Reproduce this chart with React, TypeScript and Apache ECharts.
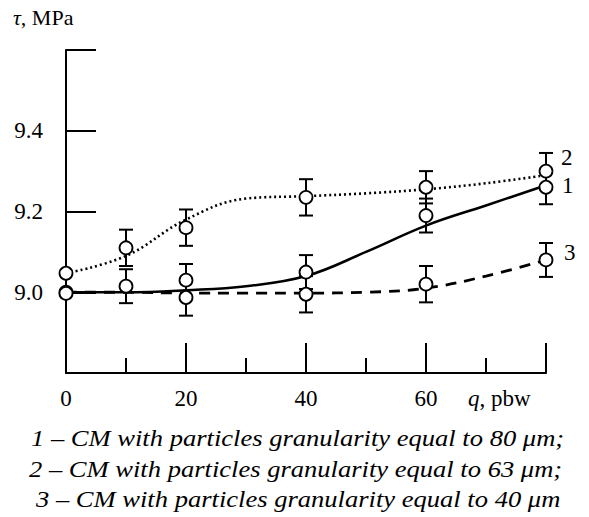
import React, { useEffect, useRef } from "react";
import * as echarts from "echarts";

// Measured points (q, pbw) and tau (MPa) with error half-widths
const q1 = [0, 10, 20, 40, 60, 80];
const tau1 = [9.0, 9.015, 9.03, 9.05, 9.19, 9.26];
const err1 = [0, 0.042, 0.04, 0.042, 0.042, 0.042];

const q2 = [0, 10, 20, 40, 60, 80];
const tau2 = [9.047, 9.11, 9.16, 9.235, 9.26, 9.3];
const err2 = [0, 0.045, 0.045, 0.045, 0.04, 0.045];

const q3 = [0, 20, 40, 60, 80];
const tau3 = [8.997, 8.987, 8.995, 9.02, 9.08];
const err3 = [0, 0.045, 0.045, 0.045, 0.042];

// Fitted curves
const qFit = [0, 10, 20, 30, 40, 50, 60, 70, 80];
const fit1 = [9.0, 9.0, 9.005, 9.015, 9.04, 9.1, 9.165, 9.215, 9.265];
const fit2 = [9.047, 9.09, 9.18, 9.232, 9.238, 9.245, 9.255, 9.27, 9.29];
const fit3 = [9.0, 9.0, 8.998, 8.998, 8.998, 9.0, 9.01, 9.04, 9.08];

const xTickLabels = [0, 20, 40, 60];
const yTickLabels = [9.0, 9.2, 9.4];

const legendLines = [
  "1 \u2013 CM with particles granularity equal to 80 \u03bcm;",
  "2 \u2013 CM with particles granularity equal to 63 \u03bcm;",
  "3 \u2013 CM with particles granularity equal to 40 \u03bcm",
];

const SERIF = "Liberation Serif";

function pts(q: number[], t: number[]) {
  return q.map((v, i) => [v, t[i]]);
}
function errData(q: number[], t: number[], e: number[]) {
  return q.map((v, i) => [v, t[i], e[i]]).filter((d) => d[2] > 0);
}

const errorSeries = (data: number[][]) => ({
  type: "custom",
  z: 3,
  data,
  renderItem: (params: any, api: any) => {
    const x = api.value(0);
    const y = api.value(1);
    const e = api.value(2);
    const top = api.coord([x, y + e]);
    const bot = api.coord([x, y - e]);
    const w = 7;
    const st = { stroke: "#000", lineWidth: 2 };
    return {
      type: "group",
      children: [
        { type: "line", shape: { x1: top[0], y1: top[1], x2: bot[0], y2: bot[1] }, style: st },
        { type: "line", shape: { x1: top[0] - w, y1: top[1], x2: top[0] + w, y2: top[1] }, style: st },
        { type: "line", shape: { x1: bot[0] - w, y1: bot[1], x2: bot[0] + w, y2: bot[1] }, style: st },
      ],
    };
  },
});

const scatter = (data: number[][]) => ({
  type: "scatter",
  z: 5,
  data,
  symbol: "circle",
  symbolSize: 13,
  itemStyle: { color: "#fff", borderColor: "#000", borderWidth: 1.8, opacity: 1 },
});

const legendX = [31, 29, 36];

export default function App() {
  const ref = useRef<HTMLDivElement>(null);
  useEffect(() => {
    if (!ref.current) return;
    document.body.style.margin = "0";
    const chart = echarts.init(ref.current, null, { renderer: "svg" });
    chart.setOption({
      animation: false,
      backgroundColor: "#fff",
      grid: { left: 66, right: 43, top: 50, bottom: 144 },
      xAxis: {
        type: "value",
        min: 0,
        max: 80,
        interval: 20,
        axisLine: { lineStyle: { color: "#000", width: 2 } },
        axisTick: { show: true, inside: true, length: 30, lineStyle: { color: "#000", width: 2 } },
        minorTick: { show: true, splitNumber: 2, length: 15, lineStyle: { color: "#000", width: 2 } },
        splitLine: { show: false },
        axisLabel: {
          margin: 14,
          color: "#000",
          fontFamily: SERIF,
          fontSize: 23,
          formatter: (v: number) => (xTickLabels.includes(v) ? String(v) : ""),
        },
      },
      yAxis: {
        type: "value",
        min: 8.8,
        max: 9.6,
        interval: 0.2,
        axisLine: { show: true, lineStyle: { color: "#000", width: 2 } },
        axisTick: { show: true, inside: true, length: 30, lineStyle: { color: "#000", width: 2 } },
        splitLine: { show: false },
        axisLabel: {
          margin: 23,
          color: "#000",
          fontFamily: SERIF,
          fontSize: 23,
          formatter: (v: number) => {
            const r = Math.round(v * 10) / 10;
            return yTickLabels.some((t) => Math.abs(t - r) < 1e-6) ? r.toFixed(1) : "";
          },
        },
      },
      series: [
        {
          type: "line",
          data: pts(qFit, fit1),
          smooth: 0.4,
          symbol: "none",
          z: 2,
          lineStyle: { color: "#000", width: 2.6, type: "solid" },
        },
        {
          type: "line",
          data: pts(qFit, fit2),
          smooth: 0.4,
          symbol: "none",
          z: 2,
          lineStyle: { color: "#000", width: 2.6, type: [2, 3] },
        },
        {
          type: "line",
          data: pts(qFit, fit3),
          smooth: 0.4,
          symbol: "none",
          z: 2,
          lineStyle: { color: "#000", width: 2.8, type: [11, 8] },
        },
        errorSeries(errData(q1, tau1, err1)),
        errorSeries(errData(q2, tau2, err2)),
        errorSeries(errData(q3, tau3, err3)),
        scatter(pts(q1, tau1)),
        scatter(pts(q2, tau2)),
        scatter(pts(q3, tau3)),
      ],
      graphic: [
        {
          type: "text",
          left: 13,
          top: 6,
          style: {
            text: "{i|\u03c4}, MPa",
            fill: "#000",
            fontFamily: SERIF,
            fontSize: 22,
            rich: { i: { fontStyle: "italic", fontFamily: SERIF, fontSize: 22 } },
          },
        },
        {
          type: "text",
          left: 468,
          top: 387,
          style: {
            text: "{i|q}, pbw",
            fill: "#000",
            fontFamily: SERIF,
            fontSize: 23,
            rich: { i: { fontStyle: "italic", fontFamily: SERIF, fontSize: 23 } },
          },
        },
        { type: "text", left: 561, top: 146, style: { text: "2", fill: "#000", fontFamily: SERIF, fontSize: 23 } },
        { type: "text", left: 562, top: 174, style: { text: "1", fill: "#000", fontFamily: SERIF, fontSize: 23 } },
        { type: "text", left: 564, top: 241, style: { text: "3", fill: "#000", fontFamily: SERIF, fontSize: 23 } },
        ...legendLines.map((t, i) => ({
          type: "text",
          x: legendX[i],
          y: 427 + i * 30.5,
          scaleX: 1.155,
          style: {
            text: t,
            fill: "#000",
            fontFamily: SERIF,
            fontStyle: "italic",
            fontSize: 23,
            verticalAlign: "top",
            align: "left",
          },
        })),
      ],
    });
    return () => chart.dispose();
  }, []);
  return <div ref={ref} style={{ width: 589, height: 517 }} />;
}
